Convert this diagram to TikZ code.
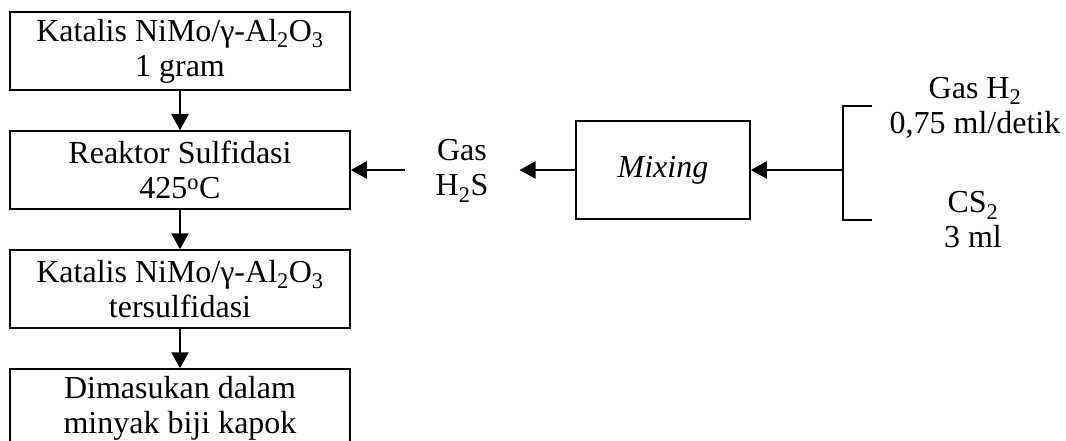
\documentclass[tikz,border=0pt]{standalone}
\usepackage{fontspec}
\setmainfont{Liberation Serif}
\usetikzlibrary{arrows.meta,positioning}

\begin{document}
\begin{tikzpicture}[x=1pt,y=-1pt,
    font=\fontsize{32}{35}\selectfont,
    box/.style={draw,line width=1.5pt,minimum width=340pt,minimum height=78pt,align=center,inner sep=0pt},
    flow/.style={line width=2pt,-{Triangle[length=16pt,width=17pt]}}]
    \useasboundingbox (0,0) rectangle (1066,441);
    % main column
    \node[box] (katalis) at (180,51) {Katalis NiMo/γ-Al\textsubscript{2}O\textsubscript{3}\\1 gram};
    \node[box] (reaktor) at (180,170) {Reaktor Sulfidasi\\425\textsuperscript{o}C};
    \node[box] (tersulf) at (180,289) {Katalis NiMo/γ-Al\textsubscript{2}O\textsubscript{3}\\tersulfidasi};
    \node[box] (minyak) at (180,408) {Dimasukan dalam\\minyak biji kapok};
    \draw[flow] (katalis) -- (reaktor);
    \draw[flow] (reaktor) -- (tersulf);
    \draw[flow] (tersulf) -- (minyak);
    % feed line
    \node[draw,line width=1.5pt,minimum width=174pt,minimum height=98pt] (mixing) at (663,170) {\textit{Mixing}};
    \node[align=center,inner xsep=31pt,inner ysep=0pt] (hs) at (462,171) {Gas\\H\textsubscript{2}S};
    \draw[flow] (mixing.west) -- (hs.east |- mixing.west);
    \draw[flow] (hs.west |- reaktor.east) -- (reaktor.east);
    % inputs
    \node[align=center,inner sep=0pt] (hidrogen) at (975,108) {Gas H\textsubscript{2}\\0,75 ml/detik};
    \node[align=center,inner sep=0pt] (karbon) at (973,220) {CS\textsubscript{2}\\3 ml};
    \coordinate (top) at (872,106);
    \coordinate (join) at (843,170);
    \coordinate (bot) at (872,220);
    \draw[line width=2pt] (top) -| (join) |- (bot);
    \draw[flow] (join) -- (mixing.east);
\end{tikzpicture}
\end{document}
